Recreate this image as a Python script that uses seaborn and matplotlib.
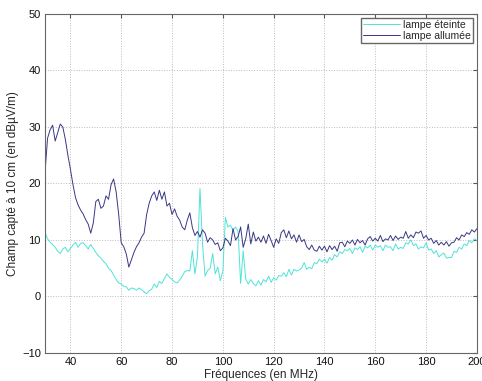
import numpy as np
import pandas as pd
import matplotlib
matplotlib.use("Agg")
import matplotlib.pyplot as plt
import seaborn as sns

freq = list(range(30, 201))

allumee = [22, 28, 29.5, 30.3, 27.5, 29, 30.5, 30, 27.8, 25,
           22.5, 19.8, 17.5, 16.2, 15.3, 14.6, 13.6, 12.8, 11.2, 13,
           16.8, 17.2, 15.6, 16, 17.8, 17.2, 19.8, 20.8, 18.5, 14.5,
           9.5, 8.8, 7.5, 5.2, 6.5, 7.8, 8.8, 9.5, 10.5, 11.2,
           14.5, 16.5, 17.8, 18.5, 17, 18.8, 17.2, 18.5, 16, 16.5,
           14.5, 15.5, 14.2, 13.5, 12.3, 11.8, 13.5, 14.8, 12.2, 10.8,
           11.5, 10.5, 11.8, 11.2, 9.6, 10.4, 10, 9.2, 9.5, 8.1,
           8.6, 10.3, 9.8, 9, 12, 10, 10.6, 12.3, 8.7, 10.2,
           12.8, 9.3, 11.4, 9.8, 10.5, 9.6, 10.7, 9.4, 11, 9.9,
           8.7, 10.2, 9.4, 11.3, 11.8, 10.4, 11.6, 10.2, 10.9, 9.6,
           10.9, 9.7, 10.1, 8.8, 8.3, 9.1, 8.2, 8.0, 8.9, 8.2,
           8.9, 7.9, 9.0, 8.3, 8.9, 8.0, 9.5, 9.6, 8.8, 9.8,
           9.4, 10, 9.1, 10.1, 9.5, 9.9, 9.1, 10.2, 10.6, 9.8,
           10.3, 9.8, 10.8, 9.7, 10.2, 10, 10.8, 9.9, 10.7, 10.1,
           10.5, 10.3, 11.5, 10.3, 10.9, 10.4, 11.4, 11.2, 11.6, 10.3,
           10.8, 10, 10.3, 9.4, 9.9, 9.1, 9.6, 9.1, 9.7, 8.9,
           9.5, 9.6, 10.4, 10, 10.9, 10.6, 11.3, 11, 11.8, 11.4,
           12]

eteinte = [11.3, 10.2, 9.6, 9.2, 8.7, 8, 7.6, 8.4, 8.7, 7.9,
           8.5, 9.1, 9.6, 8.7, 9.4, 9.5, 9, 8.4, 9.2, 8.5,
           7.8, 7.2, 6.8, 6.2, 5.8, 5, 4.6, 3.8, 3, 2.4,
           2.2, 1.8, 1.7, 1.1, 1.5, 1.4, 1.1, 1.5, 1.2, 0.8,
           0.5, 1, 1.3, 2.2, 1.6, 2.7, 2.3, 3.2, 4, 3.4,
           3, 2.6, 2.4, 2.9, 3.6, 4.4, 4.6, 4.5, 8.1, 4,
           7, 19.1, 9.3, 3.6, 4.6, 5, 7.6, 4, 5.2, 2.8,
           4.5, 14, 12.3, 12.6, 11.7, 12.3, 11.5, 2.3, 8.1, 3.1,
           2.2, 3.0, 2.3, 1.9, 2.8, 2.0, 3.0, 2.6, 3.6, 2.5,
           3.3, 2.9, 3.7, 3.6, 4.2, 3.5, 4.8, 3.8, 4.8, 4.5,
           4.7, 5, 6, 4.8, 5.2, 4.9, 6, 5.8, 6.6, 6.1,
           6.6, 5.9, 6.9, 6.4, 7.4, 7, 7.9, 7.6, 8.3, 8.1,
           8.5, 7.6, 8.6, 8.3, 8.8, 7.8, 8.9, 8.6, 9.1, 8.2,
           9.1, 8.7, 9, 8.1, 9.1, 8.7, 8.8, 8.1, 9.3, 8.4,
           8.7, 8.5, 9.5, 9.3, 10, 9.0, 9.3, 8.4, 8.8, 8.6,
           9.5, 8.2, 8.4, 7.6, 8.1, 7.0, 7.4, 7.7, 6.8, 6.9,
           6.9, 8.0, 7.8, 8.7, 8.4, 9.3, 9.0, 9.9, 9.5, 10.2,
           9.9]

series_names = ["lampe éteinte", "lampe allumée"]
colors = ["#4fe3d8", "#383884"]

df = pd.concat([
    pd.DataFrame({"f": freq, "v": eteinte, "serie": series_names[0]}),
    pd.DataFrame({"f": freq, "v": allumee, "serie": series_names[1]}),
])

sns.set_style("white")
plt.rcParams['font.family'] = ['Liberation Sans', 'DejaVu Sans']

fig = plt.figure(figsize=(4.82, 3.81), dpi=100)
ax = fig.add_axes([0.0934, 0.0735, 0.896, 0.89])

sns.lineplot(data=df, x="f", y="v", hue="serie", hue_order=series_names,
             palette=colors, linewidth=0.7, ax=ax, estimator=None, sort=False)

ax.set_xlim(30, 200)
ax.set_ylim(-10, 50)
ax.set_xticks(range(40, 201, 20))
ax.set_yticks(range(-10, 51, 10))
ax.grid(True, linestyle=":", color="#bbbbbb", linewidth=0.7)
ax.tick_params(direction="in", length=3, labelsize=8, top=True, right=True,
               colors="#555555", labelcolor="#111111", pad=3)
for s in ax.spines.values():
    s.set_color("#666666")
    s.set_linewidth(0.8)

ax.set_xlabel("Fréquences (en MHz)", fontsize=8.5, labelpad=1)
ax.set_ylabel("Champ capté à 10 cm (en dBµV/m)", fontsize=8.5, labelpad=2)

ax.legend(loc="upper right", fontsize=7.5, frameon=True, fancybox=False,
          edgecolor="#666666", framealpha=1, handlelength=3.6,
          borderpad=0.2, labelspacing=0.1, handletextpad=0.3,
          borderaxespad=0.35)

fig.savefig("out.png", dpi=100, facecolor="white")
